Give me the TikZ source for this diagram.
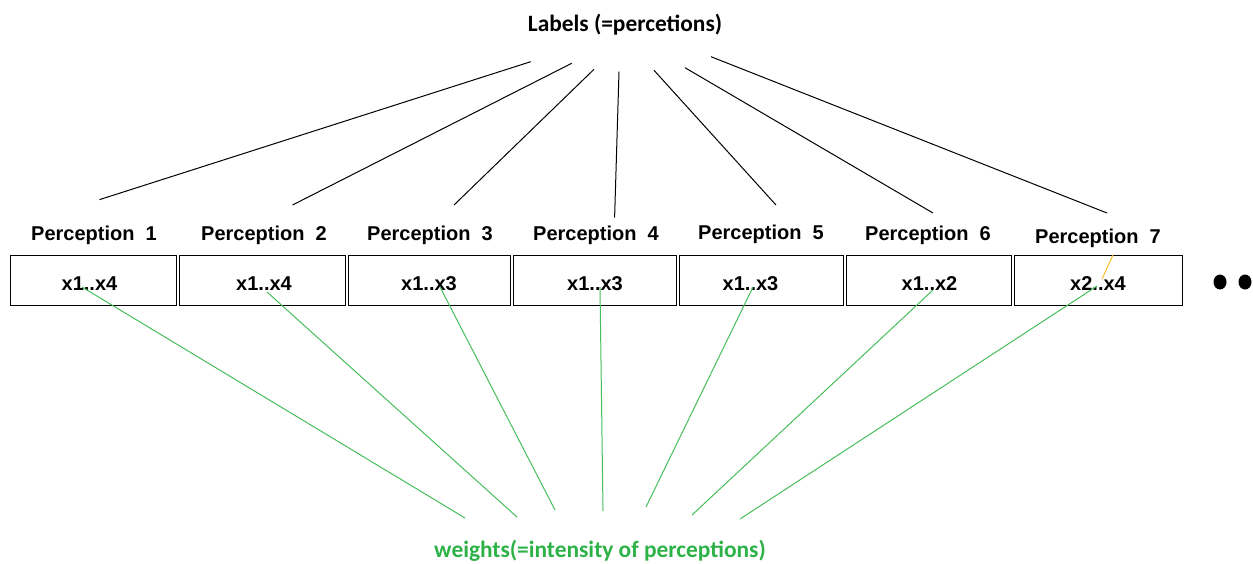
\documentclass[tikz,border=0pt]{standalone}
\usepackage{fontspec}
\usetikzlibrary{shapes.geometric}
\setmainfont{Liberation Sans}
\newfontfamily\titlefont{Carlito}
\definecolor{wgreen}{RGB}{70,190,90}
\definecolor{wtext}{RGB}{45,178,72}
\definecolor{markorange}{RGB}{250,190,40}

\begin{document}
\begin{tikzpicture}[x=.5pt,y=-.5pt,
	perc/.style={font=\fontsize{10}{12}\selectfont\bfseries, anchor=base, inner sep=0pt},
	val/.style={font=\fontsize{10}{12}\selectfont\bfseries, anchor=base, inner sep=0pt},
	cell/.style={draw, line width=.55pt, inner sep=0pt, minimum height=25pt},
	dotmark/.style={ellipse, fill=black, minimum width=6.5pt, minimum height=7.5pt, inner sep=0pt},
	labline/.style={line width=.5pt},
	wline/.style={wgreen, line width=.5pt}]
		\useasboundingbox (0,0) rectangle (1253,563);
		
		\node[font=\titlefont\fontsize{11.7}{14}\selectfont\bfseries, anchor=base, inner sep=0pt] (labels) at (625,31.5) {Labels (=percetions)};
		
		\node[perc] (p1) at (94,240) {Perception~~1};
		\node[perc] (p2) at (264,240) {Perception~~2};
		\node[perc] (p3) at (430,240) {Perception~~3};
		\node[perc] (p4) at (596,240) {Perception~~4};
		\node[perc] (p5) at (761,239) {Perception~~5};
		\node[perc] (p6) at (928,240) {Perception~~6};
		\node[perc] (p7) at (1098,243) {Perception~~7};
		
		\node[cell, minimum width=82.8pt] (box1) at (93.5,280.5) {};
		\node[cell, minimum width=82.8pt] (box2) at (262.5,280.5) {};
		\node[cell, minimum width=80.8pt] (box3) at (429.5,280.5) {};
		\node[cell, minimum width=81.3pt] (box4) at (595,280.5) {};
		\node[cell, minimum width=81.8pt] (box5) at (761.5,280.5) {};
		\node[cell, minimum width=82.3pt] (box6) at (929,280.5) {};
		\node[cell, minimum width=84pt] (box7) at (1098.5,280.5) {};
		
		\node[val] (v1) at (89.5,290) {x1..x4};
		\node[val] (v2) at (264,290) {x1..x4};
		\node[val] (v3) at (429,290) {x1..x3};
		\node[val] (v4) at (595,290) {x1..x3};
		\node[val] (v5) at (750.5,290) {x1..x3};
		\node[val] (v6) at (929.5,290) {x1..x2};
		\node[val] (v7) at (1098,290) {x2..x4};
		
		\node[dotmark] (dot1) at (1220,282) {};
		\node[dotmark] (dot2) at (1245,282) {};
		
		\node[font=\titlefont\fontsize{11.7}{14}\selectfont\bfseries, text=wtext, anchor=base, inner sep=0pt] (weights) at (600,557) {weights(=intensity of perceptions)};
		
		% lines under the title
		\coordinate (lt1) at (530.7,61.7);
		\coordinate (lb1) at (99.6,199.6);
		\coordinate (lt2) at (571.7,63.3);
		\coordinate (lb2) at (292.5,205);
		\coordinate (lt3) at (594,69.3);
		\coordinate (lb3) at (454,205);
		\coordinate (lt4) at (619,71.7);
		\coordinate (lb4) at (614.6,217.5);
		\coordinate (lt5) at (654,70.3);
		\coordinate (lb5) at (776,205);
		\coordinate (lt6) at (685,67.7);
		\coordinate (lb6) at (933,213);
		\coordinate (lt7) at (711,56.7);
		\coordinate (lb7) at (1107,213);
		
		\draw[labline] (lt1) -- (lb1);
		\draw[labline] (lt2) -- (lb2);
		\draw[labline] (lt3) -- (lb3);
		\draw[labline] (lt4) -- (lb4);
		\draw[labline] (lt5) -- (lb5);
		\draw[labline] (lt6) -- (lb6);
		\draw[labline] (lt7) -- (lb7);
		
		% lines down to the weights
		\coordinate (ws1) at (82,287);
		\coordinate (we1) at (465,518);
		\coordinate (ws2) at (267,292);
		\coordinate (we2) at (517,517);
		\coordinate (ws3) at (440,287);
		\coordinate (we3) at (555,510);
		\coordinate (ws4) at (600,287);
		\coordinate (we4) at (603,511);
		\coordinate (ws5) at (753,287);
		\coordinate (we5) at (646,507);
		\coordinate (ws6) at (933,290);
		\coordinate (we6) at (692,515);
		\coordinate (ws7) at (1097,286);
		\coordinate (we7) at (740,519);
		
		\draw[wline] (ws1) -- (we1);
		\draw[wline] (ws2) -- (we2);
		\draw[wline] (ws3) -- (we3);
		\draw[wline] (ws4) -- (we4);
		\draw[wline] (ws5) -- (we5);
		\draw[wline] (ws6) -- (we6);
		\draw[wline] (ws7) -- (we7);
		
		\coordinate (os) at (1113,255);
		\coordinate (oe) at (1102,279);
		\draw[markorange, line width=.5pt] (os) -- (oe);
		
	\end{tikzpicture}
\end{document}
